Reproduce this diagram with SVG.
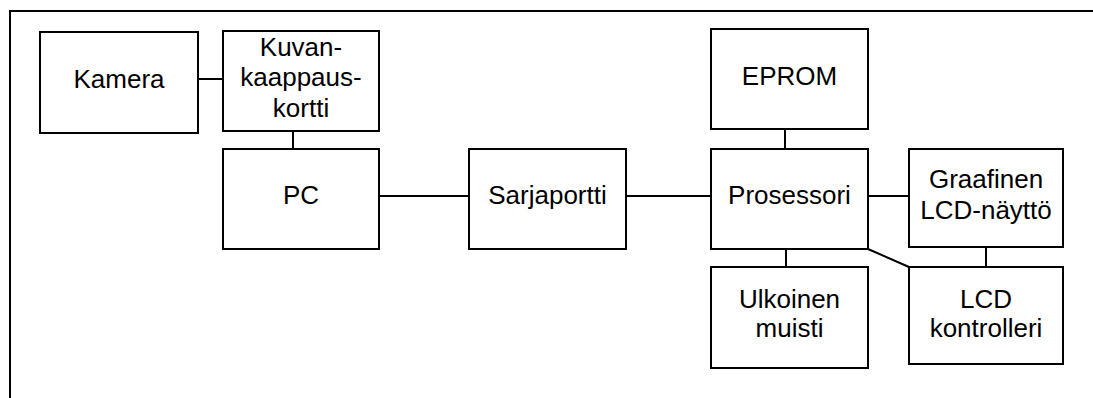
<svg xmlns="http://www.w3.org/2000/svg" width="1093" height="398" viewBox="0 0 1093 398">
<style>
.box{fill:#fff;stroke:#000;stroke-width:2}
.ln{stroke:#000;stroke-width:2;fill:none}
text{font-family:"Liberation Sans",Arial,sans-serif;font-size:26px;fill:#000;text-anchor:middle}
</style>
<rect x="0" y="0" width="1093" height="398" fill="#fff"/>
<g id="frame">
<path class="ln" d="M10,398 V11 H1093"/>
</g>
<g id="connectors">
<line class="ln" x1="198" y1="79" x2="223" y2="79"/>
<line class="ln" x1="293" y1="131" x2="293" y2="149"/>
<line class="ln" x1="379" y1="196" x2="469" y2="196"/>
<line class="ln" x1="626" y1="196" x2="711" y2="196"/>
<line class="ln" x1="785" y1="129" x2="785" y2="149"/>
<line class="ln" x1="868" y1="196" x2="909" y2="196"/>
<line class="ln" x1="786" y1="249" x2="786" y2="267"/>
<line class="ln" x1="986" y1="247" x2="986" y2="267"/>
<line class="ln" x1="868" y1="249" x2="909" y2="267"/>
</g>
<g id="kamera">
<rect class="box" x="40" y="32" width="158" height="101"/>
<text x="119" y="88">Kamera</text>
</g>
<g id="kuvankaappauskortti">
<rect class="box" x="223" y="31" width="156" height="100"/>
<text x="301" y="55.5">Kuvan-</text>
<text x="301" y="86">kaappaus-</text>
<text x="301" y="117">kortti</text>
</g>
<g id="pc">
<rect class="box" x="223" y="149" width="156" height="100"/>
<text x="301" y="204">PC</text>
</g>
<g id="sarjaportti">
<rect class="box" x="469" y="149" width="157" height="100"/>
<text x="547.5" y="204">Sarjaportti</text>
</g>
<g id="eprom">
<rect class="box" x="711" y="29" width="157" height="100"/>
<text x="789.5" y="85">EPROM</text>
</g>
<g id="prosessori">
<rect class="box" x="711" y="149" width="157" height="100"/>
<text x="789.5" y="204">Prosessori</text>
</g>
<g id="graafinen">
<rect class="box" x="909" y="149" width="154" height="98"/>
<text x="986" y="188">Graafinen</text>
<text x="986" y="219">LCD-näyttö</text>
</g>
<g id="ulkoinen">
<rect class="box" x="711" y="267" width="157" height="101"/>
<text x="789.5" y="308">Ulkoinen</text>
<text x="789.5" y="337">muisti</text>
</g>
<g id="lcdkontrolleri">
<rect class="box" x="909" y="267" width="154" height="97"/>
<text x="986" y="308">LCD</text>
<text x="986" y="337">kontrolleri</text>
</g>
</svg>
